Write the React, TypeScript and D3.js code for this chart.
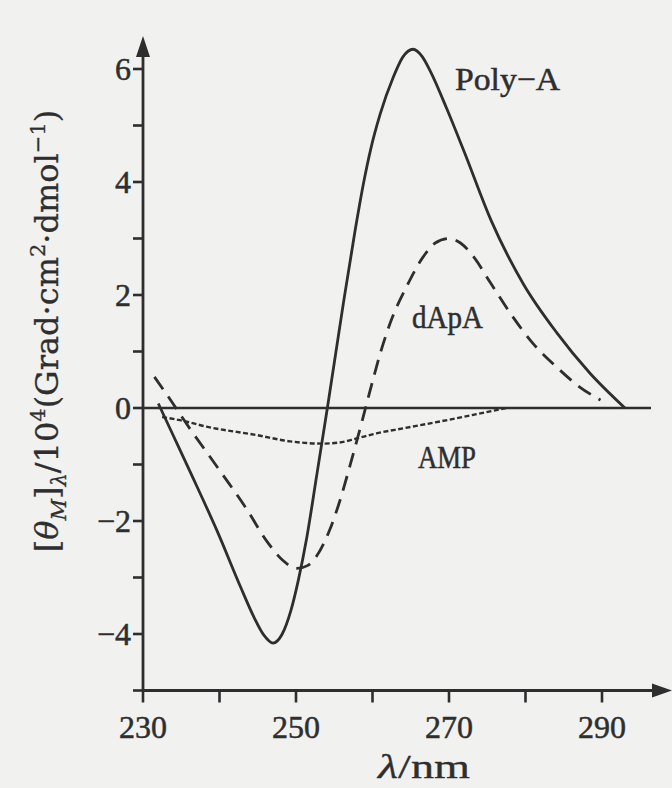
import React, { useEffect, useRef } from "react";
import * as d3 from "d3";

const polyA: [number, number][] = [
  [232, 0.08], [234, -0.5], [236.2, -1.14], [239.7, -2.18], [242.7, -3.15], [244.5, -3.7],
  [245.8, -4.02], [247, -4.16], [248.2, -4.0], [249.3, -3.6], [250.3, -3.05], [251.4, -2.3],
  [252.7, -1.2], [254.1, 0], [256.2, 1.86], [257.7, 3.12], [258.8, 3.96], [259.8, 4.6],
  [261, 5.2], [262.7, 5.85], [264, 6.22], [265.3, 6.35], [266.5, 6.22], [267.6, 5.95],
  [269.7, 5.3], [272, 4.53], [275.5, 3.32], [279.7, 2.2], [284.1, 1.33], [288.4, 0.62], [293, 0],
];
const dApA: [number, number][] = [
  [231.5, 0.55], [233.1, 0.24], [236.1, -0.36], [240, -1.1], [243.6, -1.8], [246.2, -2.36],
  [248.3, -2.7], [250.1, -2.84], [251.5, -2.79], [252.7, -2.62], [254.4, -2.16], [255.6, -1.7],
  [257.2, -0.95], [258.7, -0.2], [259.9, 0.42], [261, 0.96], [262.3, 1.5], [264.5, 2.16],
  [266.6, 2.67], [268.2, 2.92], [269.9, 3.0], [271.5, 2.92], [273.2, 2.68], [275.4, 2.22],
  [278, 1.68], [281, 1.14], [284.1, 0.72], [287, 0.38], [289.8, 0.14],
];
const amp: [number, number][] = [
  [232.5, -0.16], [235, -0.22], [238.3, -0.33], [244.9, -0.48], [249.2, -0.59], [253.5, -0.63],
  [255.7, -0.61], [257.9, -0.54], [260.5, -0.45], [264, -0.36], [268, -0.26], [272.5, -0.14],
  [277.5, 0],
];
const xTicks = [230, 240, 250, 260, 270, 280, 290];
const xLabels = [230, 250, 270, 290];
const yTicks = [-5, -4, -3, -2, -1, 0, 1, 2, 3, 4, 5, 6];
const yLabels = [-4, -2, 0, 2, 4, 6];

const INK = "#2e2e2e";
const FONT = "'Liberation Serif', 'DejaVu Serif', serif";
const FONT_Y = "'DejaVu Serif', 'Liberation Serif', serif";

export default function App() {
  const ref = useRef<SVGSVGElement>(null);
  useEffect(() => {
    document.body.style.margin = "0";
    const svg = d3.select(ref.current);
    svg.selectAll("*").remove();
    const x = d3.scaleLinear().domain([230, 290]).range([143, 602]);
    const y = d3.scaleLinear().domain([0, 6]).range([408, 69]);

    svg.append("rect").attr("width", 672).attr("height", 788).attr("fill", "#f1f1ef");

    // axes
    svg.append("line").attr("x1", x(230)).attr("x2", 658).attr("y1", y(-5)).attr("y2", y(-5))
      .attr("stroke", INK).attr("stroke-width", 2.8);
    svg.append("path").attr("d", `M672,${y(-5)} L652,${y(-5) - 7} L652,${y(-5) + 7} Z`).attr("fill", INK);
    svg.append("line").attr("x1", x(230)).attr("x2", x(230)).attr("y1", y(-5)).attr("y2", 52)
      .attr("stroke", INK).attr("stroke-width", 2.8);
    svg.append("path").attr("d", `M${x(230)},36 L${x(230) - 7},57 L${x(230) + 7},57 Z`).attr("fill", INK);
    // zero line
    svg.append("line").attr("x1", x(230)).attr("x2", 651).attr("y1", y(0)).attr("y2", y(0))
      .attr("stroke", INK).attr("stroke-width", 2.6);

    const g = svg.append("g").attr("font-family", FONT).attr("fill", INK)
      .attr("stroke", INK).attr("stroke-width", 0.5);
    xTicks.forEach((t) => {
      g.append("line").attr("x1", x(t)).attr("x2", x(t)).attr("y1", y(-5)).attr("y2", y(-5) + 12)
        .attr("stroke-width", 2.6);
    });
    xLabels.forEach((t) => {
      g.append("text").attr("x", x(t)).attr("y", 738).attr("text-anchor", "middle")
        .attr("font-size", 32).text(String(t));
    });
    yTicks.forEach((t) => {
      g.append("line").attr("x1", x(230) - 10).attr("x2", x(230)).attr("y1", y(t)).attr("y2", y(t))
        .attr("stroke-width", 2.6);
    });
    yLabels.forEach((t) => {
      g.append("text").attr("x", x(230) - 12).attr("y", y(t) + 11).attr("text-anchor", "end")
        .attr("font-size", 32).text(t < 0 ? "\u2212" + Math.abs(t) : String(t));
    });

    const line = d3.line<[number, number]>().x((d) => x(d[0])).y((d) => y(d[1])).curve(d3.curveMonotoneX);
    const curves = svg.append("g").attr("fill", "none").attr("stroke", INK).attr("stroke-linecap", "butt");
    curves.append("path").attr("d", line(polyA)).attr("stroke-width", 2.8);
    curves.append("path").attr("d", line(dApA)).attr("stroke-width", 2.8).attr("stroke-dasharray", "15,9");
    curves.append("path").attr("d", line(amp)).attr("stroke-width", 2.4).attr("stroke-dasharray", "5,2.5");

    // series labels
    g.append("text").attr("x", 455).attr("y", 90).attr("font-size", 32)
      .attr("textLength", 105).attr("lengthAdjust", "spacingAndGlyphs").text("Poly\u2212A");
    g.append("text").attr("x", 412).attr("y", 328).attr("font-size", 31)
      .attr("textLength", 71).attr("lengthAdjust", "spacingAndGlyphs").text("dApA");
    g.append("text").attr("x", 418).attr("y", 468).attr("font-size", 32)
      .attr("textLength", 58).attr("lengthAdjust", "spacingAndGlyphs").text("AMP");

    // axis titles
    const xt = g.append("text").attr("x", 378).attr("y", 778).attr("font-size", 33)
      .attr("stroke-width", 0.3)
      .attr("textLength", 92).attr("lengthAdjust", "spacingAndGlyphs");
    xt.append("tspan").attr("font-style", "italic").text("\u03bb");
    xt.append("tspan").text("/nm");

    const yt = g.append("text").attr("transform", "translate(58,331) rotate(-90)").attr("text-anchor", "middle")
      .attr("font-family", FONT_Y).attr("font-size", 32).attr("stroke-width", 0.3);
    const sub = 21;
    yt.append("tspan").text("[");
    yt.append("tspan").attr("font-style", "italic").text("\u03b8");
    yt.append("tspan").attr("font-style", "italic").attr("font-size", sub).attr("dy", 8).text("M");
    yt.append("tspan").attr("dy", -8).text("]");
    yt.append("tspan").attr("font-style", "italic").attr("font-size", sub).attr("dy", 8).text("\u03bb");
    yt.append("tspan").attr("dy", -8).text("/10");
    yt.append("tspan").attr("font-size", sub).attr("dy", -13).text("4");
    yt.append("tspan").attr("dy", 13).text("(Grad\u00b7cm");
    yt.append("tspan").attr("font-size", sub).attr("dy", -13).text("2");
    yt.append("tspan").attr("dy", 13).text("\u00b7dmol");
    yt.append("tspan").attr("font-size", sub).attr("dy", -13).text("\u22121");
    yt.append("tspan").attr("dy", 13).text(")");
  }, []);
  return (
    <svg ref={ref} width={672} height={788} style={{ position: "absolute", left: 0, top: 0, display: "block" }} />
  );
}
